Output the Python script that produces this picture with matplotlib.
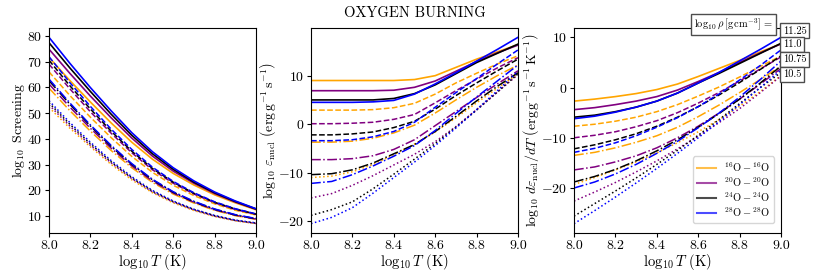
import matplotlib
matplotlib.use("Agg")
import matplotlib.pyplot as plt
from matplotlib.ticker import MultipleLocator

plt.rcParams.update({
    "font.family": "serif",
    "font.serif": ["cmr10"],
    "mathtext.fontset": "cm",
    "axes.formatter.use_mathtext": True,
    "axes.unicode_minus": True,
})

# log10 T grid
logT = [8.0, 8.1, 8.2, 8.3, 8.4, 8.5, 8.6, 8.7, 8.8, 8.9, 9.0]

# densities (log10 rho) -> linestyle
rho_labels = ["11.25", "11.0", "10.75", "10.5"]
rho_styles = ["-", "--", "-.", ":"]

species = [r"${}^{16}{\rm O} - {}^{16}{\rm O}$", r"${}^{20}{\rm O} - {}^{20}{\rm O}$",
           r"${}^{24}{\rm O} - {}^{24}{\rm O}$", r"${}^{28}{\rm O} - {}^{28}{\rm O}$"]
colors = ["orange", "purple", "black", "blue"]

# log10 Screening, rows = rho 11.25, 11.0, 10.75, 10.5
scr_o16 = [[71.6, 62.7, 54.3, 46.2, 38.7, 32.1, 26.6, 22.1, 18.3, 15.2, 12.5],
           [66.0, 56.9, 48.4, 40.5, 33.2, 27.0, 22.0, 18.0, 14.8, 12.3, 10.5],
           [59.7, 51.0, 43.0, 35.5, 28.8, 23.1, 18.6, 15.1, 12.3, 10.2, 8.8],
           [52.2, 44.2, 36.9, 30.1, 24.1, 19.1, 15.2, 12.2, 9.9, 8.2, 7.1]]
scr_o20 = [[74.8, 65.5, 56.6, 48.2, 40.3, 33.3, 27.5, 22.8, 18.8, 15.5, 12.7],
           [69.0, 59.5, 50.5, 42.2, 34.6, 28.0, 22.8, 18.6, 15.2, 12.6, 10.7],
           [61.3, 52.4, 44.1, 36.4, 29.5, 23.6, 19.0, 15.4, 12.5, 10.4, 8.9],
           [53.2, 45.0, 37.5, 30.7, 24.6, 19.4, 15.5, 12.4, 10.0, 8.3, 7.2]]
scr_o24 = [[77.3, 67.6, 58.4, 49.6, 41.4, 34.2, 28.2, 23.2, 19.1, 15.7, 12.8],
           [70.5, 60.7, 51.6, 43.0, 35.2, 28.5, 23.2, 18.9, 15.4, 12.8, 10.8],
           [62.6, 53.5, 45.0, 37.1, 30.1, 24.1, 19.3, 15.6, 12.7, 10.5, 9.0],
           [54.0, 45.7, 38.1, 31.1, 24.9, 19.7, 15.7, 12.6, 10.2, 8.4, 7.3]]
scr_o28 = [[79.4, 69.4, 59.9, 50.9, 42.4, 35.0, 28.8, 23.7, 19.4, 15.9, 12.9],
           [71.9, 61.9, 52.6, 43.8, 35.9, 29.0, 23.5, 19.1, 15.6, 12.9, 10.9],
           [63.2, 54.0, 45.4, 37.5, 30.4, 24.3, 19.5, 15.8, 12.8, 10.6, 9.1],
           [54.8, 46.4, 38.7, 31.6, 25.3, 20.0, 15.9, 12.7, 10.3, 8.5, 7.4]]

# log10 eps_nucl
eps_o16 = [[9.0, 9.0, 9.0, 9.0, 9.0, 9.2, 10.0, 11.7, 13.4, 14.9, 16.4],
           [2.9, 2.9, 2.9, 3.0, 3.4, 4.3, 6.2, 8.5, 10.5, 12.4, 14.1],
           [-3.7, -3.7, -3.5, -2.9, -1.8, -0.2, 2.3, 5.0, 7.6, 10.0, 12.2],
           [-11.0, -10.7, -9.8, -8.3, -6.3, -4.1, -1.6, 1.3, 4.4, 7.4, 10.4]]
eps_o20 = [[6.9, 6.9, 6.9, 6.9, 7.0, 7.6, 8.9, 10.9, 12.9, 14.7, 16.3],
           [0.1, 0.1, 0.2, 0.4, 1.0, 2.0, 4.4, 6.9, 9.3, 11.6, 13.7],
           [-7.3, -7.3, -7.1, -6.5, -5.2, -3.2, -0.3, 2.6, 5.5, 8.3, 11.0],
           [-15.2, -14.3, -12.6, -10.6, -8.4, -6.2, -3.6, -0.5, 3.0, 6.6, 10.2]]
eps_o24 = [[5.0, 5.0, 5.0, 5.0, 5.3, 6.3, 8.1, 10.4, 12.7, 14.6, 16.5],
           [-2.2, -2.2, -2.0, -1.6, -0.7, 0.6, 3.1, 5.9, 8.5, 11.0, 13.4],
           [-10.4, -10.2, -9.4, -8.0, -6.1, -4.2, -1.5, 1.6, 4.8, 7.8, 10.6],
           [-18.8, -17.6, -16.0, -13.3, -10.3, -7.2, -4.0, -0.6, 2.9, 6.6, 10.4]]
eps_o28 = [[4.5, 4.5, 4.5, 4.6, 4.9, 6.2, 8.3, 10.6, 13.0, 15.4, 17.9],
           [-3.4, -3.4, -3.2, -2.6, -1.5, 0.4, 3.5, 6.5, 9.4, 12.4, 15.3],
           [-12.2, -11.8, -10.4, -8.6, -6.6, -4.4, -1.3, 2.2, 5.6, 8.9, 12.2],
           [-20.5, -19.2, -17.2, -14.2, -11.0, -7.8, -4.4, -0.8, 3.0, 6.9, 10.9]]

# log10 d eps_nucl / dT
deps_o16 = [[-2.7, -2.3, -1.8, -1.2, -0.4, 0.7, 2.2, 3.8, 5.4, 7.1, 8.7],
            [-7.7, -7.3, -6.7, -5.9, -4.8, -3.4, -1.7, 0.1, 2.1, 4.2, 6.3],
            [-13.5, -12.9, -12.0, -10.9, -9.6, -7.9, -5.8, -3.5, -1.0, 1.6, 4.3],
            [-19.3, -17.9, -16.4, -14.8, -13.0, -11.0, -8.8, -6.4, -3.7, -0.8, 2.4]]
deps_o20 = [[-4.4, -4.0, -3.4, -2.7, -1.8, -0.5, 1.2, 3.0, 5.0, 6.9, 8.7],
            [-10.0, -9.5, -8.8, -7.8, -6.6, -5.0, -3.1, -1.0, 1.3, 3.7, 6.1],
            [-16.4, -15.8, -14.8, -13.6, -12.0, -10.0, -7.7, -5.1, -2.3, 0.7, 3.8],
            [-22.6, -20.8, -18.9, -16.8, -14.6, -12.2, -9.7, -7.0, -4.2, -1.0, 2.3]]
deps_o24 = [[-5.9, -5.5, -4.8, -3.9, -2.7, -1.1, 0.9, 2.8, 4.8, 6.8, 8.8],
            [-12.2, -11.4, -10.4, -9.2, -7.7, -5.9, -3.8, -1.5, 1.0, 3.6, 6.3],
            [-18.8, -17.7, -16.3, -14.6, -12.6, -10.4, -7.9, -5.2, -2.3, 0.9, 4.3],
            [-25.6, -23.1, -20.6, -18.0, -15.3, -12.5, -9.5, -6.4, -3.2, 0.0, 3.0]]
deps_o28 = [[-6.2, -5.7, -4.9, -3.9, -2.7, -1.1, 0.9, 3.0, 5.3, 7.6, 10.0],
            [-12.9, -12.1, -11.0, -9.6, -7.9, -6.0, -3.8, -1.3, 1.5, 4.4, 7.5],
            [-20.0, -18.8, -17.2, -15.3, -13.1, -10.7, -8.0, -5.1, -1.9, 1.6, 5.3],
            [-27.1, -24.5, -21.8, -19.0, -16.1, -13.1, -10.0, -6.8, -3.4, 0.0, 3.5]]

panels = [
    ([scr_o16, scr_o20, scr_o24, scr_o28], r"$\log_{10}$ Screening"),
    ([eps_o16, eps_o20, eps_o24, eps_o28],
     r"$\log_{10}\,\varepsilon_{\rm nucl}\ \left({\rm erg\,g^{-1}\,s^{-1}}\right)$"),
    ([deps_o16, deps_o20, deps_o24, deps_o28],
     r"$\log_{10}\,d\varepsilon_{\rm nucl}/dT\ \left({\rm erg\,g^{-1}\,s^{-1}\,K^{-1}}\right)$"),
]

fig = plt.figure(figsize=(8.22, 2.74), dpi=100)
lefts = [49 / 822, 311 / 822, 574 / 822]
axes = [fig.add_axes([l, 41 / 274, 207 / 822, 205 / 274]) for l in lefts]

for ax, (data, ylab) in zip(axes, panels):
    for sp, col, lab in zip(data, colors, species):
        for j, (vals, ls) in enumerate(zip(sp, rho_styles)):
            ax.plot(logT, vals, color=col, ls=ls, lw=1.2 if j == 0 else 1.1,
                    label=lab if j == 0 else None)
    ax.set_xlim(8.0, 9.0)
    ax.xaxis.set_major_locator(MultipleLocator(0.2))
    ax.xaxis.set_major_formatter(plt.FormatStrFormatter("%.1f"))
    ax.yaxis.set_major_locator(MultipleLocator(10))
    ax.set_xlabel(r"$\log_{10}T$ (K)", fontsize=10.5, labelpad=0)
    ax.set_ylabel(ylab, fontsize=10, labelpad=0)
    ax.tick_params(labelsize=10, length=3, pad=2)

axes[1].set_title("OXYGEN BURNING", fontsize=10.5, pad=8)

# legend
leg = axes[2].legend(loc="lower right", bbox_to_anchor=(0.965, 0.05), borderaxespad=0,
                     fontsize=7.5, handlelength=1.8, labelspacing=0.15, borderpad=0.35)
for h in leg.legend_handles:
    h.set_alpha(0.7)
    h.set_linewidth(1.5)

# density labels
ax3 = axes[2]
ax3.text(8.962, 12.5, r"$\log_{10}\rho\,[{\rm g\,cm^{-3}}]$ =", fontsize=7.5,
         ha="right", va="center", bbox=dict(boxstyle="square,pad=0.25", fc="white", ec="0.3"))
for lab, yv in zip(rho_labels, [11.3, 8.6, 5.6, 2.6]):
    ax3.text(9.01, yv, lab, fontsize=7.5, ha="left", va="center", clip_on=False,
             bbox=dict(boxstyle="square,pad=0.25", fc="white", ec="0.3"))

fig.savefig("out.png", dpi=100)
